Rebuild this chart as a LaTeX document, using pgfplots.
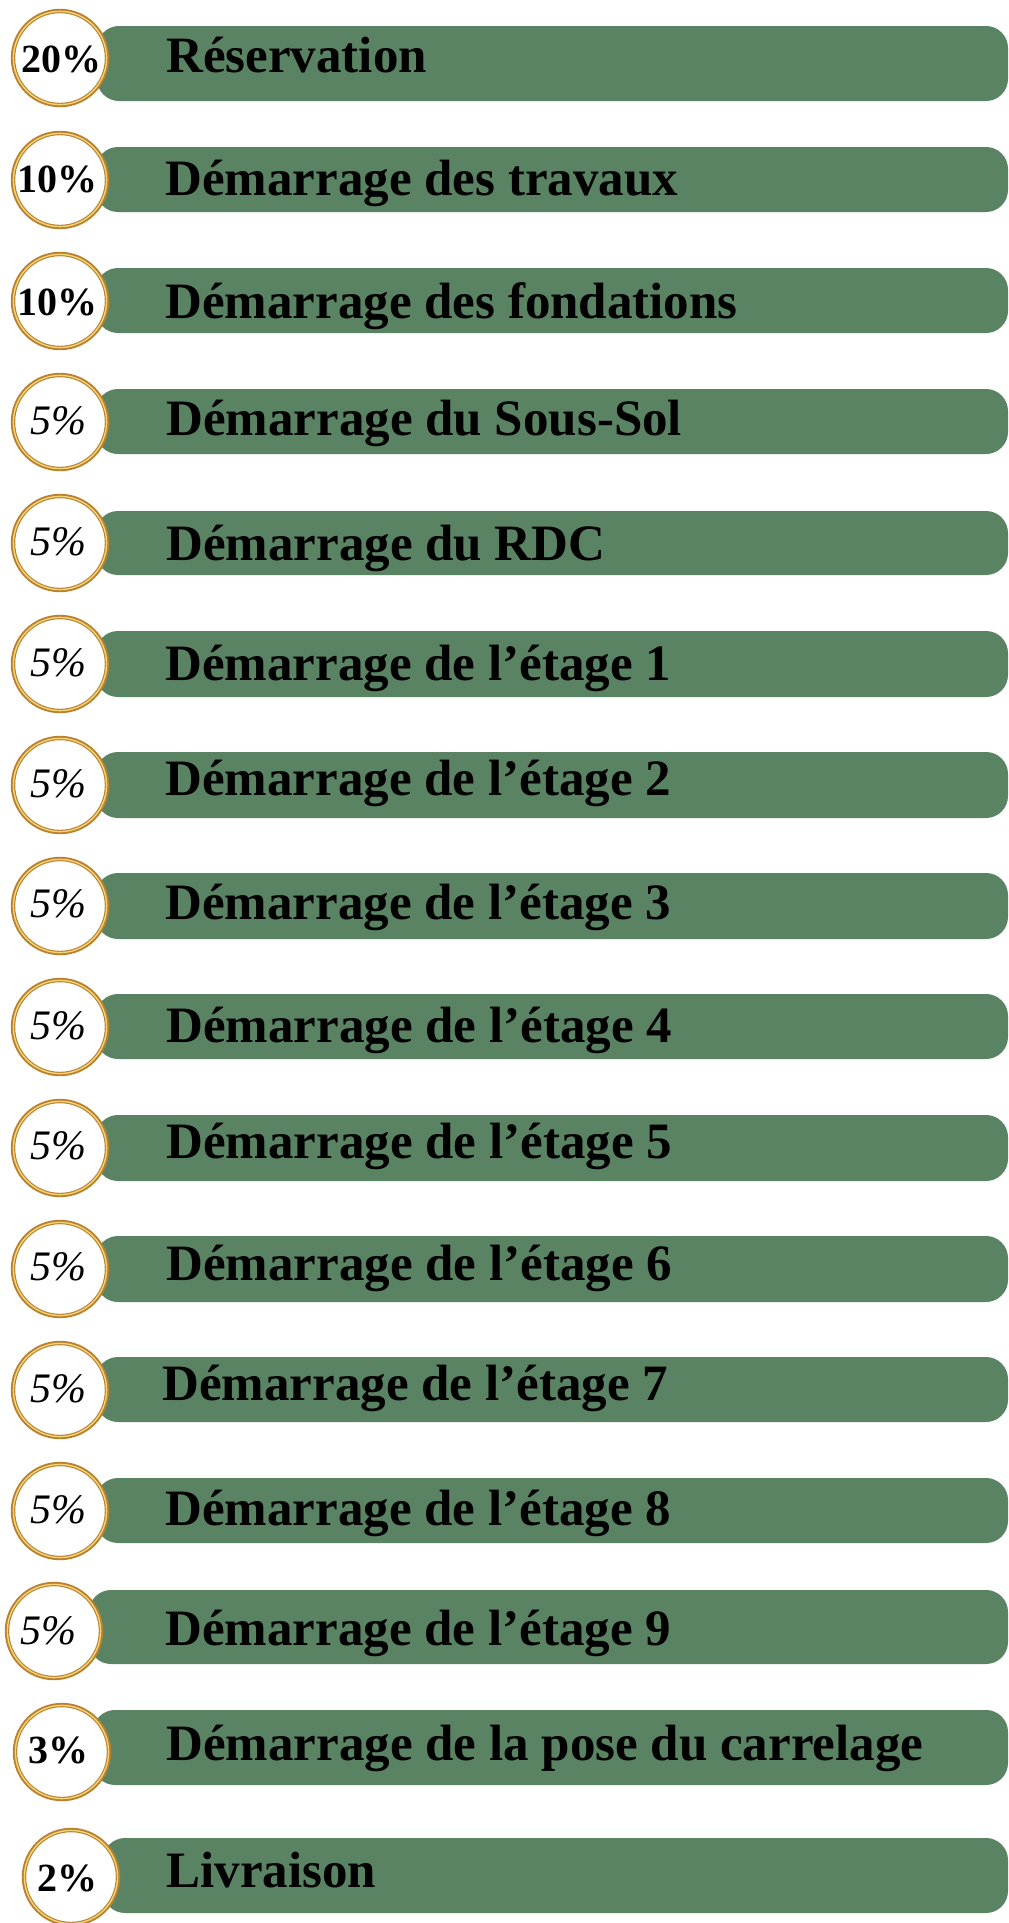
\documentclass[border=0pt]{standalone}
\usepackage{fontspec}
\setmainfont{Liberation Serif}
\usepackage{pgfplots}
\pgfplotsset{compat=1.18}
\definecolor{barg}{RGB}{89,131,98}
\definecolor{gold}{RGB}{186,128,46}
\definecolor{goldlt}{RGB}{240,212,118}
\begin{document}
\begin{tikzpicture}
\begin{axis}[
  width=504pt, height=961.5pt, scale only axis,
  xmin=0, xmax=1008, ymin=0, ymax=1923, y dir=reverse,
  hide axis, clip marker paths=true,
]
% ---- green bars (pixel coordinates: left, top, bottom)
\addplot[fill=barg, draw=none, rounded corners=11pt] coordinates {(97,26) (1008,26) (1008,101) (97,101)} -- cycle;
\addplot[fill=barg, draw=none, rounded corners=11pt] coordinates {(96,147) (1008,147) (1008,212) (96,212)} -- cycle;
\addplot[fill=barg, draw=none, rounded corners=11pt] coordinates {(96,268) (1008,268) (1008,333) (96,333)} -- cycle;
\addplot[fill=barg, draw=none, rounded corners=11pt] coordinates {(96,389) (1008,389) (1008,454) (96,454)} -- cycle;
\addplot[fill=barg, draw=none, rounded corners=11pt] coordinates {(96,511) (1008,511) (1008,575) (96,575)} -- cycle;
\addplot[fill=barg, draw=none, rounded corners=11pt] coordinates {(96,631) (1008,631) (1008,697) (96,697)} -- cycle;
\addplot[fill=barg, draw=none, rounded corners=11pt] coordinates {(96,752) (1008,752) (1008,818) (96,818)} -- cycle;
\addplot[fill=barg, draw=none, rounded corners=11pt] coordinates {(96,873) (1008,873) (1008,939) (96,939)} -- cycle;
\addplot[fill=barg, draw=none, rounded corners=11pt] coordinates {(96,994) (1008,994) (1008,1059) (96,1059)} -- cycle;
\addplot[fill=barg, draw=none, rounded corners=11pt] coordinates {(96,1115) (1008,1115) (1008,1181) (96,1181)} -- cycle;
\addplot[fill=barg, draw=none, rounded corners=11pt] coordinates {(96,1236) (1008,1236) (1008,1302) (96,1302)} -- cycle;
\addplot[fill=barg, draw=none, rounded corners=11pt] coordinates {(96,1357) (1008,1357) (1008,1422) (96,1422)} -- cycle;
\addplot[fill=barg, draw=none, rounded corners=11pt] coordinates {(96,1478) (1008,1478) (1008,1543) (96,1543)} -- cycle;
\addplot[fill=barg, draw=none, rounded corners=11pt] coordinates {(89,1590) (1008,1590) (1008,1664) (89,1664)} -- cycle;
\addplot[fill=barg, draw=none, rounded corners=11pt] coordinates {(93,1710) (1008,1710) (1008,1785) (93,1785)} -- cycle;
\addplot[fill=barg, draw=none, rounded corners=11pt] coordinates {(103,1838) (1008,1838) (1008,1913) (103,1913)} -- cycle;
% ---- gold rings
\addplot[only marks, mark=*, mark size=23.5pt, mark options={fill=white, draw=gold, line width=2.2pt}]
coordinates {(60,58) (60,180) (60,301) (60,422) (60,543) (60,664) (60,785) (60,906) (60,1027) (60,1148) (60,1269) (60,1390) (60,1511) (54,1631) (62,1752) (71,1877)};
\addplot[only marks, mark=o, mark size=23.3pt, mark options={draw=goldlt, line width=0.7pt}]
coordinates {(60,58) (60,180) (60,301) (60,422) (60,543) (60,664) (60,785) (60,906) (60,1027) (60,1148) (60,1269) (60,1390) (60,1511) (54,1631) (62,1752) (71,1877)};
% ---- percentages (bold)
\addplot[draw=none, nodes near coords, point meta=explicit symbolic,
  nodes near coords style={anchor=base, inner sep=0pt, text=black, font=\fontsize{20}{24}\selectfont\bfseries}]
coordinates {(61,72)[20\%] (58,192)[10\%] (58,315)[10\%] (58,1763)[3\%] (68,1891)[2\%]};
% ---- percentages (italic)
\addplot[draw=none, nodes near coords, point meta=explicit symbolic,
  nodes near coords style={anchor=base, inner sep=0pt, text=black, font=\fontsize{21}{25}\selectfont\itshape}]
coordinates {(58,434)[5\%] (58,555)[5\%] (58,676)[5\%] (58,797)[5\%] (58,917)[5\%] (58,1039)[5\%] (58,1159)[5\%] (58,1280)[5\%] (58,1402)[5\%] (58,1523)[5\%] (48,1644)[5\%]};
% ---- stage labels
\addplot[draw=none, nodes near coords, point meta=explicit symbolic,
  nodes near coords style={anchor=base west, inner sep=0pt, text=black, font=\fontsize{25.5}{30}\selectfont\bfseries}]
coordinates {(166,72)[Réservation] (165,195)[Démarrage des travaux] (165,318)[Démarrage des fondations] (166,435)[Démarrage du Sous-Sol] (166,560)[Démarrage du RDC] (165,680)[Démarrage de l’étage 1] (165,795)[Démarrage de l’étage 2] (165,919)[Démarrage de l’étage 3] (166,1042)[Démarrage de l’étage 4] (166,1158)[Démarrage de l’étage 5] (166,1280)[Démarrage de l’étage 6] (162,1400)[Démarrage de l’étage 7] (165,1525)[Démarrage de l’étage 8] (165,1645)[Démarrage de l’étage 9] (166,1760)[Démarrage de la pose du carrelage] (166,1887)[Livraison]};
\end{axis}
\pgfresetboundingbox
\useasboundingbox (current axis.south west) rectangle (current axis.north east);
\end{tikzpicture}
\end{document}
